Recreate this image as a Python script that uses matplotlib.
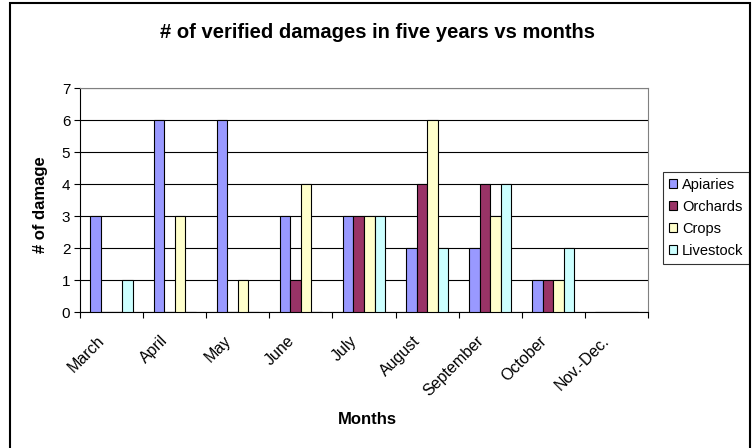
import matplotlib.pyplot as plt
import matplotlib.transforms as mtransforms
import numpy as np
from matplotlib.patches import Rectangle

plt.rcParams['font.family'] = ['Liberation Sans', 'DejaVu Sans']

# Datos: daños verificados por mes
meses = ['March', 'April', 'May', 'June', 'July', 'August',
         'September', 'October', 'Nov.-Dec.']
apiaries = [3, 6, 6, 3, 3, 2, 2, 1, 0]
orchards = [0, 0, 0, 1, 3, 4, 4, 1, 0]
crops = [0, 3, 1, 4, 3, 6, 3, 1, 0]
livestock = [1, 0, 0, 0, 3, 2, 4, 2, 0]

series = [('Apiaries', apiaries, '#9999FF'),
          ('Orchards', orchards, '#993366'),
          ('Crops', crops, '#FFFFCC'),
          ('Livestock', livestock, '#CCFFFF')]

fig = plt.figure(figsize=(7.54, 4.48), dpi=100)
W, H = 754, 448
ax = fig.add_axes([80 / W, 1 - 312 / H, 568 / W, 224 / H])

x = np.arange(len(meses))
ancho = 0.167
for i, (nombre, valores, color) in enumerate(series):
    pos = x + 0.5 + (i - 1.5) * ancho
    ax.bar(pos, valores, ancho, color=color, edgecolor='black',
           linewidth=0.8, label=nombre, zorder=3)

ax.set_xlim(0, len(meses))
ax.set_ylim(0, 7)
ax.set_yticks(range(8))
ax.yaxis.grid(True, color='black', linewidth=0.8, zorder=0)
ax.set_xticks(np.arange(len(meses) + 1))
ax.set_xticklabels([])
ax.set_xticks(x + 0.5, minor=True)
ax.set_xticklabels(meses, minor=True, rotation=45, ha='right',
                   rotation_mode='anchor', fontsize=11.5)
ax.tick_params(axis='x', which='minor', length=0, pad=15)
ax.tick_params(axis='x', which='major', length=4, direction='out', color='black')
ax.tick_params(axis='y', length=4, direction='out', labelsize=11, pad=3)

# desplazar las etiquetas de los meses un poco a la izquierda
desplazamiento = mtransforms.ScaledTranslation(-10.5 / 72, 0, fig.dpi_scale_trans)
for etiqueta in ax.get_xticklabels(minor=True):
    etiqueta.set_transform(etiqueta.get_transform() + desplazamiento)

for lado in ['top', 'right']:
    ax.spines[lado].set_color('#808080')
for lado in ['left', 'bottom']:
    ax.spines[lado].set_color('black')

fig.text(367 / W, 1 - 419 / H, 'Months', ha='center', va='center',
         fontsize=12, fontweight='bold')
fig.text(40 / W, 1 - 205 / H, '# of damage', ha='center', va='center',
         rotation=90, fontsize=12, fontweight='bold')
fig.text(378 / W, 1 - 33 / H,
         '# of verified damages in five years vs months',
         ha='center', va='center', fontsize=14.5, fontweight='bold')

leg = ax.legend(loc='upper left', bbox_to_anchor=(663 / W, 1 - 172 / H),
                bbox_transform=fig.transFigure, fontsize=10.5, frameon=True,
                fancybox=False, handlelength=0.55, handleheight=0.55,
                handletextpad=0.35, labelspacing=0.55, borderpad=0.4,
                borderaxespad=0)
leg.get_frame().set_edgecolor('black')
leg.get_frame().set_linewidth(0.8)

# Marco exterior del gráfico
fig.patches.append(Rectangle((10 / W, -0.02), 740 / W, 1 - 3 / H + 0.02,
                             transform=fig.transFigure, fill=False,
                             edgecolor='black', linewidth=1.5))

fig.savefig('out.png', dpi=100)
